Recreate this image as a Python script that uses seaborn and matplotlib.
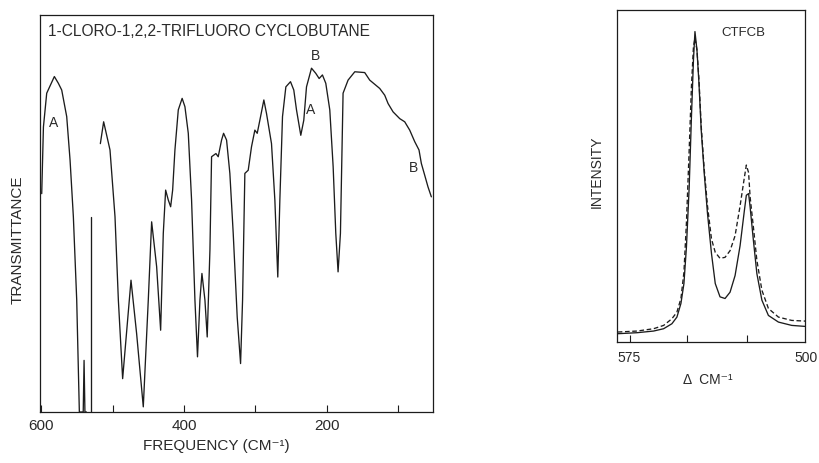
import matplotlib
matplotlib.use("Agg")
import matplotlib.pyplot as plt
import pandas as pd
import seaborn as sns

# left panel: far-IR transmittance trace (frequency in cm-1, % of frame height)
# seg 0 runs off-scale near 545, seg 1 is the lone pen stroke, seg 2 the rest
ir_freq = [599.1, 596.7, 592.1, 581.4, 575.8, 571.1, 564.1, 559.4, 554.8, 550.1,
           546.4, 541.0, 539.8, 538.6, 536.5,
           530.1, 530.1,
           517.0, 512.4, 503.5, 496.5, 491.8, 485.8, 474.1, 466.2, 456.9, 449.9,
           445.2, 438.2, 432.6, 428.9, 425.6, 421.9, 418.6, 415.8, 412.6, 407.9,
           402.5, 398.6, 393.9, 389.3, 384.6, 381.0, 377.6, 374.8, 370.6, 367.4,
           363.6, 361.3, 355.2, 352.0, 347.3, 344.5, 340.3, 335.7, 331.0, 325.4,
           320.7, 317.9, 314.7, 310.0, 305.4, 300.7, 297.4, 293.7, 288.1, 284.4,
           277.4, 272.7, 268.6, 265.7, 262.0, 257.3, 250.8, 246.2, 242.4, 236.4,
           232.2, 228.4, 221.4, 215.4, 210.7, 206.1, 201.4, 195.8, 191.1, 187.4,
           184.2, 180.9, 177.2, 170.2, 160.8, 146.9, 139.9, 125.9, 118.9, 114.2,
           107.2, 97.9, 90.9, 83.9, 76.9, 70.9, 67.6, 63.0, 58.3, 53.6]
ir_trans = [55.0, 71.8, 80.3, 84.5, 82.8, 81.1, 74.4, 63.4, 49.2, 28.2,
            0.0, 0.0, 13.0, 0.0, 0.0,
            0.0, 49.2,
            67.6, 73.1, 66.0, 49.2, 28.2, 8.4, 33.2, 19.7, 1.3, 28.2,
            47.9, 36.6, 20.6, 45.0, 55.9, 53.4, 51.7, 55.9, 66.0, 76.1,
            79.0, 76.9, 70.2, 53.4, 28.2, 13.9, 28.2, 34.9, 28.2, 18.9,
            40.8, 64.3, 65.1, 64.3, 68.5, 70.2, 68.5, 60.1, 45.0, 23.9,
            12.2, 28.2, 60.1, 60.9, 66.8, 71.0, 70.2, 73.5, 78.6, 75.2,
            67.6, 53.4, 34.0, 53.4, 74.4, 81.9, 83.2, 81.1, 76.1, 69.7,
            73.5, 81.9, 86.6, 85.3, 84.0, 84.9, 82.8, 76.1, 61.8, 45.0,
            35.3, 45.0, 80.3, 83.6, 85.7, 85.5, 83.6, 81.5, 79.8, 77.7,
            75.6, 73.9, 73.1, 71.0, 68.1, 66.0, 62.6, 59.7, 56.7, 54.2]
ir_seg = [0] * 15 + [1] * 2 + [2] * (len(ir_freq) - 17)

# right panel: two Raman scans of CTFCB (delta cm-1, % of frame height)
ram_freq = [574.7, 567.0, 560.4, 556.4, 553.1, 551.1, 549.5, 548.3, 547.3, 546.2,
            545.3, 544.5, 543.9, 543.1, 542.3, 541.4, 540.2, 538.9, 537.3, 535.8,
            533.9, 531.9, 529.9, 527.9, 525.9, 524.2, 523.4, 522.5, 521.9, 520.6,
            519.2, 517.2, 514.6, 510.6, 505.3, 500.0]
ram_solid = [2.5, 2.8, 3.3, 4.0, 5.5, 7.5, 11.6, 17.6, 28.6, 46.7,
             67.8, 84.9, 93.5, 87.9, 77.9, 63.8, 50.8, 38.7, 26.6, 17.6,
             13.6, 13.1, 15.0, 20.0, 29.0, 39.5, 44.2, 44.7, 40.7, 30.7,
             20.6, 12.6, 8.0, 6.0, 5.0, 4.7]
ram_dashed = [3.0, 3.3, 4.0, 5.0, 7.0, 9.0, 13.1, 21.0, 36.0, 58.0,
              77.0, 89.0, 91.5, 88.0, 79.0, 65.0, 52.0, 41.0, 31.0, 27.0,
              25.2, 25.5, 27.5, 32.0, 41.0, 49.5, 53.3, 51.0, 43.7, 34.7,
              24.6, 15.6, 10.1, 7.5, 6.5, 6.3]

ink = "#1c1c1c"
W, H = 819, 463

sns.set_style("white")
plt.rcParams["font.family"] = ["Liberation Sans", "DejaVu Sans"]


def box(left, top, right, bottom):
    # pixel frame -> figure fraction rect
    return [left / W, 1 - bottom / H, (right - left) / W, (bottom - top) / H]


def ftext(x, y, s, **kw):
    kw.setdefault("color", "#2a2a2a")
    fig.text(x / W, 1 - y / H, s, **kw)


fig = plt.figure(figsize=(W / 100, H / 100), dpi=100)
ax_ir = fig.add_axes(box(40, 15, 433, 412))
ax_ram = fig.add_axes(box(617, 10, 805, 342))

ir = pd.DataFrame({"freq": ir_freq, "trans": ir_trans, "seg": ir_seg})
sns.lineplot(data=ir, x="freq", y="trans", units="seg", estimator=None,
             sort=False, color=ink, lw=0.95, ax=ax_ir)

ram = pd.concat([
    pd.DataFrame({"freq": ram_freq, "inten": ram_solid, "scan": "solid"}),
    pd.DataFrame({"freq": ram_freq, "inten": ram_dashed, "scan": "dashed"}),
])
sns.lineplot(data=ram, x="freq", y="inten", style="scan", estimator=None,
             sort=False, color=ink, lw=0.95, legend=False,
             dashes={"solid": "", "dashed": (3.5, 2)}, ax=ax_ram)

ax_ir.set_xlim(601.5, 51.3)
ax_ir.set_ylim(0, 100)
ax_ir.set_xticks([600, 500, 400, 300, 200, 100])
ax_ir.set_xticklabels(["600", "", "400", "", "200", ""])
ax_ram.set_xlim(575, 500)
ax_ram.set_ylim(0, 100)
ax_ram.set_xticks([570, 547, 523])
ax_ram.set_xticklabels([])

for ax in (ax_ir, ax_ram):
    ax.set_xlabel("")
    ax.set_ylabel("")
    ax.set_yticks([])
    ax.tick_params(axis="x", bottom=True, direction="in", length=5, width=0.8,
                   pad=5, labelsize=11, colors=ink, labelcolor="#2a2a2a")
    for sp in ax.spines.values():
        sp.set_visible(True)
        sp.set_color(ink)
        sp.set_linewidth(0.9)

# peak labels on the IR trace
for f, t, s in [(581.8, 72.8, "A"), (222.4, 76.1, "A"),
                (215.4, 89.6, "B"), (78.3, 61.5, "B")]:
    ax_ir.text(f, t, s, ha="center", va="center", fontsize=10, color="#2a2a2a")

ftext(48, 32, "1-CLORO-1,2,2-TRIFLUORO CYCLOBUTANE", ha="left", va="center",
      fontsize=11.2)
ftext(18, 240, "TRANSMITTANCE", rotation=90, ha="center", va="center",
      fontsize=11)
ftext(216, 446, "FREQUENCY (CM⁻¹)", ha="center", va="center", fontsize=11)

ftext(743, 33, "CTFCB", ha="center", va="center", fontsize=9.5)
ftext(597, 172, "INTENSITY", rotation=90, ha="center", va="center",
      fontsize=10)
ftext(617, 358, "575", ha="left", va="center", fontsize=10)
ftext(818, 358, "500", ha="right", va="center", fontsize=10)
ftext(708, 380, "Δ  CM⁻¹", ha="center", va="center", fontsize=10)

fig.savefig("out.png", dpi=100)
